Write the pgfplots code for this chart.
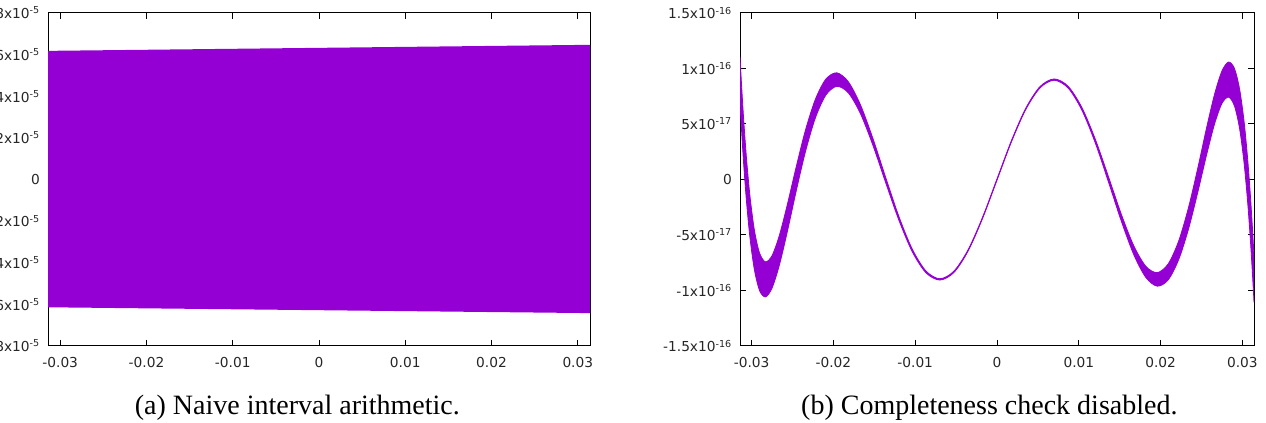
\documentclass[border=0pt]{standalone}
\usepackage{fontspec}
\setmainfont{Liberation Serif}
\newfontfamily\ticksfont{DejaVu Sans}
\usepackage{pgfplots}
\pgfplotsset{compat=1.18}
\usepgfplotslibrary{fillbetween}
\definecolor{vio}{RGB}{148,0,211}
\begin{document}
\begin{tikzpicture}
\pgfplotsset{
  gp/.style={
    scale only axis,
    height=249.75pt,
    xmin=-0.0314159, xmax=0.0314159,
    scaled x ticks=false, scaled y ticks=false,
    axis line style={black, line width=0.75pt},
    tick style={black, line width=0.75pt},
    tick align=inside,
    major tick length=4.5pt,
    xtick={-0.03,-0.02,-0.01,0,0.01,0.02,0.03},
    xticklabels={-0.03,-0.02,-0.01,0,0.01,0.02,0.03},
    ticklabel style={font=\ticksfont\fontsize{10.3}{12}\selectfont, text=black!85},
    xticklabel style={yshift=-4.8pt},
    yticklabel style={xshift=-2.5pt},
    anchor=south west,
  }
}
\begin{axis}[gp, at={(36pt,57.75pt)}, width=406.5pt,
  ymin=-8e-5, ymax=8e-5,
  ytick={-8e-5,-6e-5,-4e-5,-2e-5,0,2e-5,4e-5,6e-5,8e-5},
  yticklabels={-8x10\textsuperscript{-5},-6x10\textsuperscript{-5},-4x10\textsuperscript{-5},-2x10\textsuperscript{-5},0,2x10\textsuperscript{-5},4x10\textsuperscript{-5},6x10\textsuperscript{-5},8x10\textsuperscript{-5}}]
\addplot[name path=A, draw=none] coordinates {(-0.0314159,6.18e-5) (0.0314159,6.47e-5)};
\addplot[name path=B, draw=none] coordinates {(-0.0314159,-6.14e-5) (0.0314159,-6.42e-5)};
\addplot[fill=vio, draw=none] fill between[of=A and B];
\end{axis}
\begin{axis}[gp, at={(555pt,57.75pt)}, width=385.5pt,
  ymin=-1.5e-16, ymax=1.5e-16,
  ytick={-1.5e-16,-1e-16,-5e-17,0,5e-17,1e-16,1.5e-16},
  yticklabels={-1.5x10\textsuperscript{-16},-1x10\textsuperscript{-16},-5x10\textsuperscript{-17},0,5x10\textsuperscript{-17},1x10\textsuperscript{-16},1.5x10\textsuperscript{-16}}]
\addplot[name path=U, vio, line width=0.6pt, smooth] coordinates {
(0.031416,-0.693e-16) (0.031367,-0.6255e-16) (0.031218,-0.4324e-16) (0.030972,-0.1444e-16)
(0.030628,0.194e-16) (0.030188,0.5314e-16) (0.029653,0.8144e-16) (0.029025,1.0005e-16)
(0.028305,1.058e-16) (0.027496,0.9775e-16) (0.026601,0.7704e-16) (0.025620,0.4664e-16)
(0.024562,0.109e-16) (0.023427,-0.2474e-16) (0.022214,-0.5524e-16) (0.020931,-0.7595e-16)
(0.019587,-0.839e-16) (0.018185,-0.7815e-16) (0.016714,-0.5964e-16) (0.015196,-0.3134e-16)
(0.013631,0.024e-16) (0.012022,0.3614e-16) (0.010376,0.6484e-16) (0.008697,0.8395e-16)
(0.006991,0.906e-16) (0.005263,0.8375e-16) (0.003517,0.6424e-16) (0.001761,0.3504e-16)
(0,0.006e-16)
(-0.001761,-0.3384e-16) (-0.003517,-0.6304e-16) (-0.005263,-0.8255e-16) (-0.006991,-0.894e-16)
(-0.008697,-0.8235e-16) (-0.010376,-0.6244e-16) (-0.012022,-0.3274e-16) (-0.013631,0.024e-16)
(-0.015196,0.3754e-16) (-0.016714,0.6764e-16) (-0.018185,0.8815e-16) (-0.019587,0.961e-16)
(-0.020931,0.9035e-16) (-0.022214,0.7204e-16) (-0.023427,0.4414e-16) (-0.024562,0.109e-16)
(-0.025620,-0.2224e-16) (-0.026601,-0.5024e-16) (-0.027496,-0.6855e-16) (-0.028305,-0.742e-16)
(-0.029025,-0.6625e-16) (-0.029653,-0.4584e-16) (-0.030188,-0.1574e-16) (-0.030628,0.194e-16)
(-0.030972,0.5444e-16) (-0.031218,0.8404e-16) (-0.031367,1.0375e-16) (-0.031416,1.107e-16)};
\addplot[name path=L, vio, line width=0.6pt, smooth] coordinates {
(0.031416,-1.107e-16) (0.031367,-1.0375e-16) (0.031218,-0.8404e-16) (0.030972,-0.5444e-16)
(0.030628,-0.194e-16) (0.030188,0.1574e-16) (0.029653,0.4584e-16) (0.029025,0.6625e-16)
(0.028305,0.742e-16) (0.027496,0.6855e-16) (0.026601,0.5024e-16) (0.025620,0.2224e-16)
(0.024562,-0.109e-16) (0.023427,-0.4414e-16) (0.022214,-0.7204e-16) (0.020931,-0.9035e-16)
(0.019587,-0.961e-16) (0.018185,-0.8815e-16) (0.016714,-0.6764e-16) (0.015196,-0.3754e-16)
(0.013631,-0.024e-16) (0.012022,0.3274e-16) (0.010376,0.6244e-16) (0.008697,0.8235e-16)
(0.006991,0.894e-16) (0.005263,0.8255e-16) (0.003517,0.6304e-16) (0.001761,0.3384e-16)
(0,-0.006e-16)
(-0.001761,-0.3504e-16) (-0.003517,-0.6424e-16) (-0.005263,-0.8375e-16) (-0.006991,-0.906e-16)
(-0.008697,-0.8395e-16) (-0.010376,-0.6484e-16) (-0.012022,-0.3614e-16) (-0.013631,-0.024e-16)
(-0.015196,0.3134e-16) (-0.016714,0.5964e-16) (-0.018185,0.7815e-16) (-0.019587,0.839e-16)
(-0.020931,0.7595e-16) (-0.022214,0.5524e-16) (-0.023427,0.2474e-16) (-0.024562,-0.109e-16)
(-0.025620,-0.4664e-16) (-0.026601,-0.7704e-16) (-0.027496,-0.9775e-16) (-0.028305,-1.058e-16)
(-0.029025,-1.0005e-16) (-0.029653,-0.8144e-16) (-0.030188,-0.5314e-16) (-0.030628,-0.194e-16)
(-0.030972,0.1444e-16) (-0.031218,0.4324e-16) (-0.031367,0.6255e-16) (-0.031416,0.693e-16)};
\addplot[fill=vio, draw=none] fill between[of=U and L];
\end{axis}
\node[font=\fontsize{21}{24}\selectfont, anchor=base] at (223pt,6pt) {(a) Naive interval arithmetic.};
\node[font=\fontsize{21}{24}\selectfont, anchor=base] at (742pt,6pt) {(b) Completeness check disabled.};
\pgfresetboundingbox
\path[use as bounding box] (0,0) rectangle (949.5pt,317.25pt);
\end{tikzpicture}
\end{document}
